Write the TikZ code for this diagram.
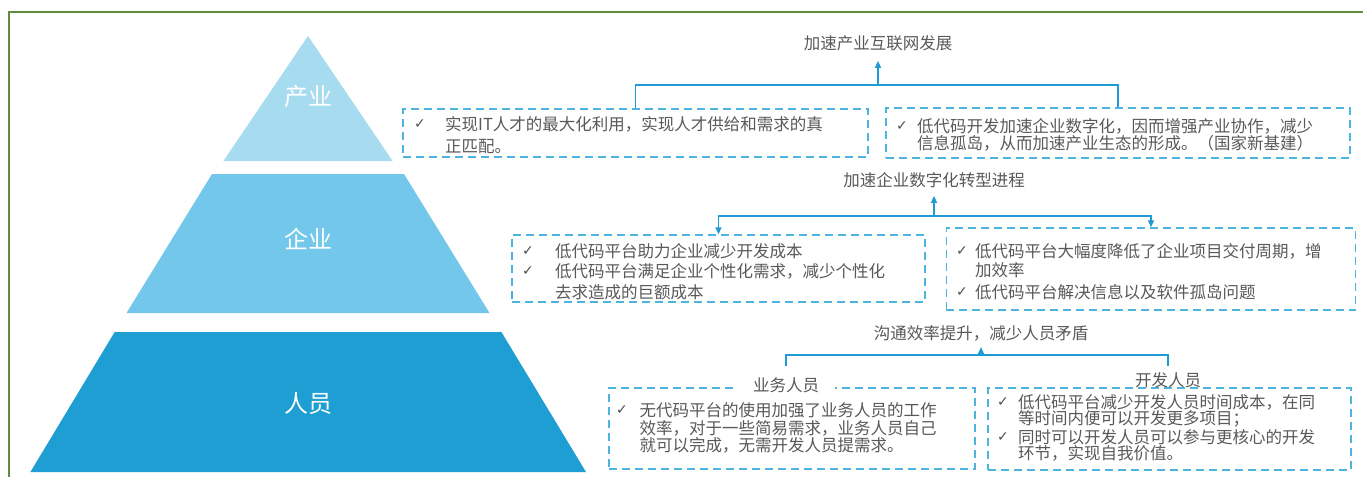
\documentclass[tikz,border=0pt]{standalone}
\usepackage{fontspec}
\newfontfamily\cjk{Noto Sans CJK SC}
\newfontfamily\symf{DejaVu Sans}
\usetikzlibrary{arrows.meta}
\definecolor{frameg}{HTML}{5E8E3E}
\definecolor{tierA}{HTML}{A6DBF0}
\definecolor{tierB}{HTML}{72C7EB}
\definecolor{tierC}{HTML}{1F9ED3}
\definecolor{dashc}{HTML}{4DB3E0}
\definecolor{linec}{HTML}{1E9BD2}
\definecolor{txtg}{HTML}{595959}
\tikzset{
  txt/.style={font=\cjk\fontsize{16.5}{17}\selectfont, text=txtg, anchor=west, inner sep=0pt},
  chk/.style={font=\symf\fontsize{14}{14}\selectfont, text=txtg!90!black, inner sep=0pt},
  ttl/.style={font=\cjk\fontsize{16.5}{17}\selectfont, text=txtg, inner sep=0pt},
  tierlab/.style={font=\cjk\fontsize{24}{24}\selectfont, text=white, inner sep=0pt},
  dbox/.style={draw=dashc, line width=1.4pt, dash pattern=on 8pt off 5pt, inner sep=0pt},
  conn/.style={draw=linec, line width=1.4pt},
  arr/.style={conn, -{Triangle[length=7pt,width=6pt]}}
}
\begin{document}
\begin{tikzpicture}[x=1pt,y=-1pt]
\useasboundingbox (0,0) rectangle (1363,477);
\fill[white] (0,0) rectangle (1363,477);
% frame
\draw[frameg, line width=2.5pt] (1363,12) -- (9,12) -- (9,477);

% pyramid
\fill[tierA] (308,36) -- (392.6,161) -- (223.4,161) -- cycle;
\fill[tierB] (212,174) -- (404,174) -- (489.5,313) -- (126.5,313) -- cycle;
\fill[tierC] (114.7,332) -- (501.4,332) -- (586,472) -- (30.4,472) -- cycle;
\node[tierlab] (pA) at (308,96) {产业};
\node[tierlab] (pB) at (308,239) {企业};
\node[tierlab] (pC) at (308,403) {人员};

% ---------- tier 1 ----------
\node[ttl] (t1) at (878,43) {加速产业互联网发展};
\node[dbox, minimum width=465pt, minimum height=48pt] (b1) at (635.5,133) {};
\node[dbox, minimum width=464pt, minimum height=50pt] (b2) at (1118,133) {};
\coordinate (j1) at (878,85);
\draw[conn] (b1.north) |- (j1) -| (b2.north);
\draw[arr, shorten >=10pt] (j1) -- (t1.south);

\node[chk] (c11) at (420,124) {✓};
\node[txt] (l11) at (445,124) {实现IT人才的最大化利用，实现人才供给和需求的真};
\node[txt] (l12) at (445,147) {正匹配。};
\node[chk] (c21) at (902,126) {✓};
\node[txt] (l21) at (917,126) {低代码开发加速企业数字化，因而增强产业协作，减少};
\node[txt] (l22) at (917,143) {信息孤岛，从而加速产业生态的形成。（国家新基建）};

% ---------- tier 2 ----------
\node[ttl] (t2) at (934,180) {加速企业数字化转型进程};
\node[dbox, minimum width=413pt, minimum height=67pt] (b3) at (718.5,268.5) {};
\node[dbox, minimum width=409.5pt, minimum height=82pt] (b4) at (1151,269) {};
\coordinate (j2) at (934,216);
\draw[arr] (j2) -| (b3.north);
\draw[arr] (j2) -| (b4.north);
\draw[arr, shorten >=8pt] (j2) -- (t2.south);

\node[chk] (c31) at (528,251) {✓};
\node[chk] (c32) at (528,271) {✓};
\node[txt] (l31) at (555,251) {低代码平台助力企业减少开发成本};
\node[txt] (l32) at (555,271) {低代码平台满足企业个性化需求，减少个性化};
\node[txt] (l33) at (555,292) {去求造成的巨额成本};
\node[chk] (c41) at (962,251) {✓};
\node[chk] (c42) at (962,292) {✓};
\node[txt] (l41) at (975,251) {低代码平台大幅度降低了企业项目交付周期，增};
\node[txt] (l42) at (975,270) {加效率};
\node[txt] (l43) at (975,292) {低代码平台解决信息以及软件孤岛问题};

% ---------- tier 3 ----------
\node[ttl] (t3) at (981,333) {沟通效率提升，减少人员矛盾};
\node[dbox, minimum width=366pt, minimum height=81pt] (b5) at (792,428.5) {};
\node[dbox, minimum width=363pt, minimum height=82pt] (b6) at (1169.5,429) {};
\node[ttl, fill=white, inner xsep=16pt] (s1) at (786,385) {业务人员};
\node[ttl] (s2) at (1168,380) {开发人员};
\coordinate (j3) at (981,355);
\draw[conn, shorten <=11pt] (s1.north) |- (j3);
\draw[conn, shorten <=6pt] (s2.north) |- (j3);
\draw[arr, shorten >=6pt] (j3) -- (t3.south);

\node[chk] (c51) at (622,410) {✓};
\node[txt] (l51) at (639.5,410) {无代码平台的使用加强了业务人员的工作};
\node[txt] (l52) at (639.5,428) {效率，对于一些简易需求，业务人员自己};
\node[txt] (l53) at (639.5,445) {就可以完成，无需开发人员提需求。};
\node[chk] (c61) at (1003,402) {✓};
\node[chk] (c62) at (1003,437) {✓};
\node[txt] (l61) at (1018,402) {低代码平台减少开发人员时间成本，在同};
\node[txt] (l62) at (1018,419) {等时间内便可以开发更多项目；};
\node[txt] (l63) at (1018,437) {同时可以开发人员可以参与更核心的开发};
\node[txt] (l64) at (1018,453) {环节，实现自我价值。};
\end{tikzpicture}
\end{document}
